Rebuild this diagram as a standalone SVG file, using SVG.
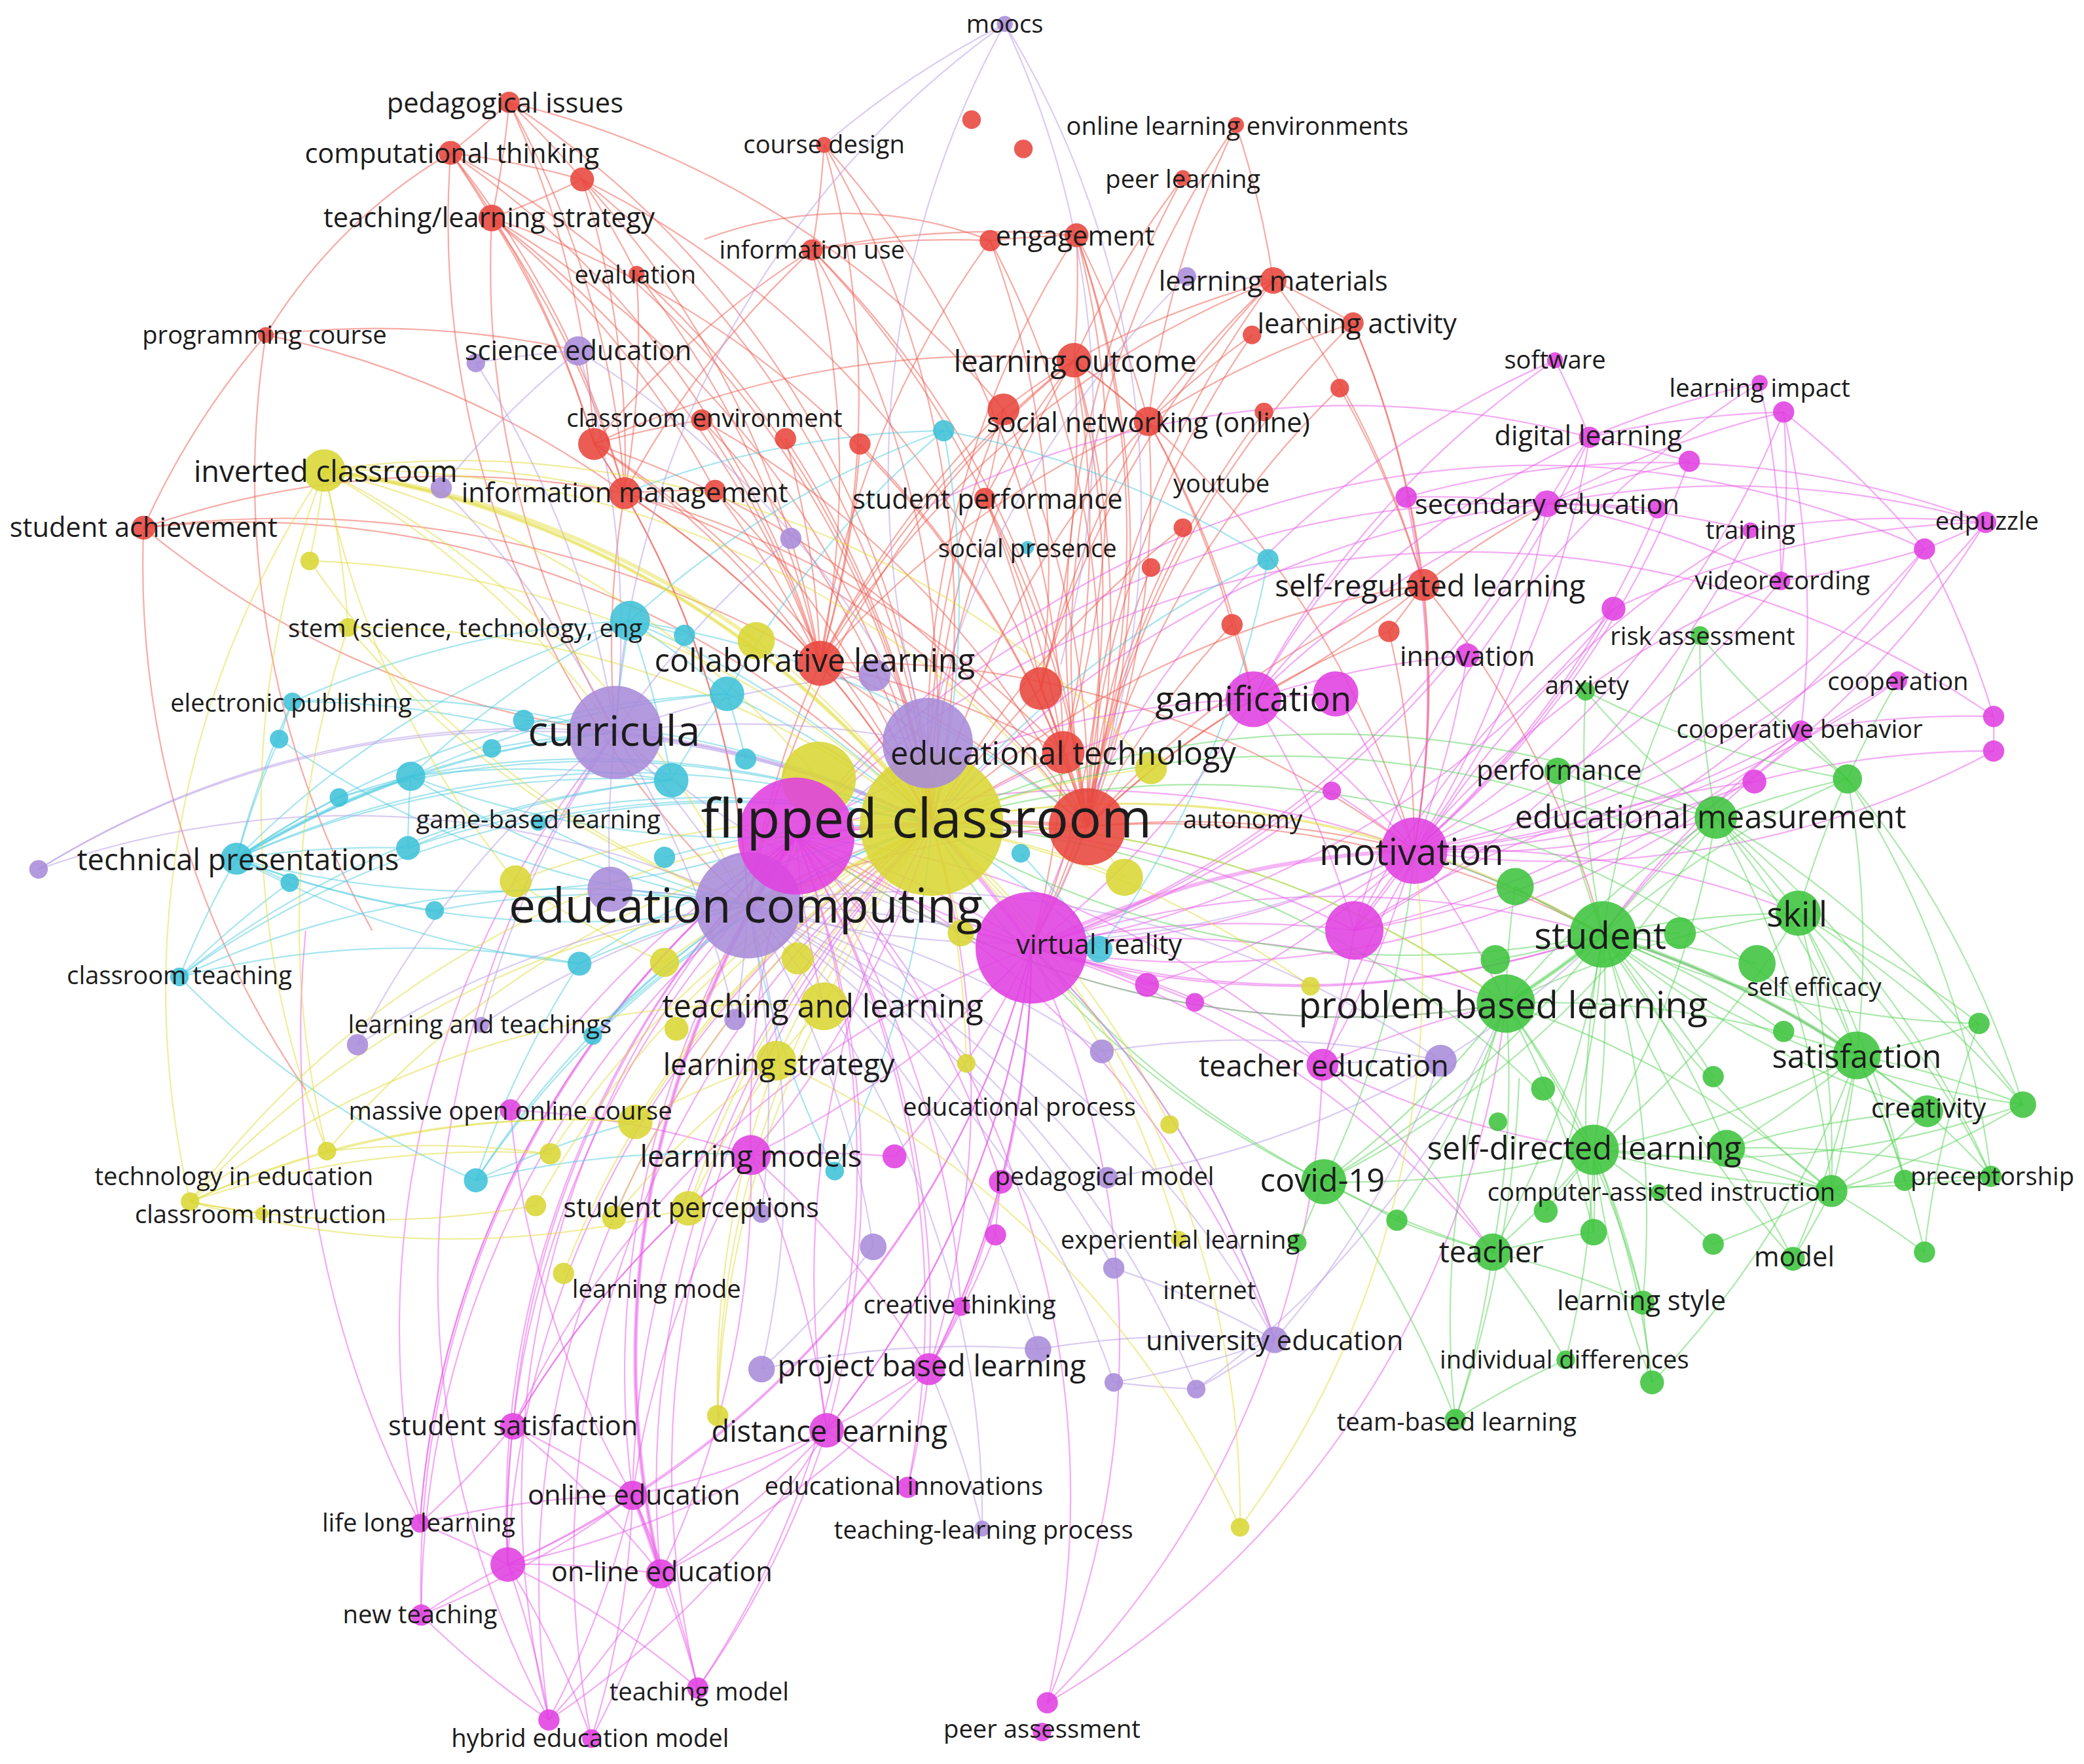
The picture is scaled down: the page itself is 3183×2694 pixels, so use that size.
<svg xmlns="http://www.w3.org/2000/svg" width="3183" height="2694" viewBox="0 0 3183 2694">
<style>
#edges path{fill:none;stroke-width:1.1;stroke-opacity:.5}
#edges .thick path{stroke-width:3;stroke-opacity:.45}
.er path,path.er{stroke:#ee5a4e}
.em path,path.em{stroke:#e85ae8}
.eg path,path.eg{stroke:#5ad45a}
.ec path,path.ec{stroke:#4fcbe0}
.ey path,path.ey{stroke:#e2dc3a}
.ep path,path.ep{stroke:#b69ae6}
circle{fill-opacity:.88}
.R{fill:#e8453c}.G{fill:#3ec43e}.C{fill:#3fc2d8}.Y{fill:#dad634}.P{fill:#a98bda}.M{fill:#e040e0}
#labels text{font-family:"Open Sans","DejaVu Sans",sans-serif;fill:#1c1c1c;text-anchor:middle;dominant-baseline:central}
.s{font-size:18.8px}.m{font-size:20.5px}.l{font-size:22.3px}.l2{font-size:24px}.xl{font-size:27.7px}
</style>
<rect width="3183" height="2694" fill="#ffffff"/>
<g transform="scale(2.03)">
<g id="edges">
<g class="er">
<path d="M383 77A700 700 0 0 1 339 115"/><path d="M383 77A700 700 0 0 1 370 164"/><path d="M383 77A700 700 0 0 1 438 135"/><path d="M383 77A700 700 0 0 1 447 334"/><path d="M383 77A700 700 0 0 1 470 371"/><path d="M383 77A700 700 0 0 1 701 620"/><path d="M383 77A700 700 0 0 1 755 308"/>
<path d="M339 115A700 700 0 0 1 370 164"/><path d="M339 115A700 700 0 0 1 438 135"/><path d="M339 115A400 400 0 0 0 200 252"/><path d="M339 115A700 700 0 0 1 470 371"/><path d="M339 115A700 700 0 0 1 447 334"/><path d="M339 115A700 700 0 0 1 701 620"/><path d="M339 115A700 700 0 0 0 563 681"/><path d="M339 115A700 700 0 0 1 617 499"/>
<path d="M438 135A700 700 0 0 1 370 164"/><path d="M438 135A700 700 0 0 1 479 206"/><path d="M438 135A700 700 0 0 1 470 371"/><path d="M438 135A700 700 0 0 1 617 499"/><path d="M438 135A700 700 0 0 1 701 620"/><path d="M438 135A700 700 0 0 1 800 566"/>
<path d="M370 164A700 700 0 0 1 470 371"/><path d="M370 164A700 700 0 0 1 447 334"/><path d="M370 164A700 700 0 0 1 617 499"/><path d="M370 164A700 700 0 0 1 701 620"/><path d="M370 164A700 700 0 0 1 538 369"/><path d="M370 164A700 700 0 0 0 463 551"/><path d="M370 164A700 700 0 0 1 818 622"/>
<path d="M479 206A700 700 0 0 1 470 371"/><path d="M479 206A700 700 0 0 1 617 499"/><path d="M479 206A700 700 0 0 1 701 620"/>
<path d="M200 252A600 600 0 0 0 108 397"/><path d="M200 252A700 700 0 0 1 435 264"/><path d="M200 252A700 700 0 0 1 470 371"/><path d="M200 252A700 700 0 0 0 280 700"/>
<path d="M620 109A700 700 0 0 1 611 188"/><path d="M620 109A700 700 0 0 1 617 499"/><path d="M620 109A700 700 0 0 1 701 620"/><path d="M620 109A700 700 0 0 1 800 566"/>
<path d="M930 94A700 700 0 0 1 958 211"/><path d="M930 94A700 700 0 0 0 864 317"/><path d="M930 94A700 700 0 0 0 818 622"/>
<path d="M890 134A700 700 0 0 0 808 271"/><path d="M890 134A700 700 0 0 0 818 622"/>
<path d="M611 188A700 700 0 0 1 745 181"/><path d="M611 188A700 700 0 0 1 810 177"/><path d="M611 188A700 700 0 0 0 447 334"/><path d="M611 188A700 700 0 0 0 470 371"/><path d="M611 188A700 700 0 0 1 617 499"/><path d="M611 188A700 700 0 0 1 701 620"/><path d="M611 188A700 700 0 0 1 818 622"/><path d="M611 188A700 700 0 0 1 800 566"/>
<path d="M745 181A700 700 0 0 1 810 177"/><path d="M745 181A700 700 0 0 0 617 499"/><path d="M745 181A700 700 0 0 1 818 622"/><path d="M745 181A700 700 0 0 1 783 518"/><path d="M745 181A300 300 0 0 0 530 180"/>
<path d="M810 177A700 700 0 0 1 808 271"/><path d="M810 177A700 700 0 0 1 864 317"/><path d="M810 177A700 700 0 0 1 818 622"/><path d="M810 177A700 700 0 0 0 701 620"/><path d="M810 177A700 700 0 0 1 800 566"/><path d="M810 177A700 700 0 0 1 776 713"/>
<path d="M958 211A700 700 0 0 1 1018 243"/><path d="M958 211A700 700 0 0 0 808 271"/><path d="M958 211A700 700 0 0 0 864 317"/><path d="M958 211A700 700 0 0 0 818 622"/><path d="M958 211A700 700 0 0 0 783 518"/><path d="M958 211A700 700 0 0 1 1071 440"/><path d="M958 211A700 700 0 0 0 617 499"/>
<path d="M1018 243A700 700 0 0 1 1071 440"/><path d="M1018 243A700 700 0 0 0 864 317"/><path d="M1018 243A700 700 0 0 0 818 622"/><path d="M1018 243A700 700 0 0 1 1064 640"/>
<path d="M942 252A700 700 0 0 0 864 317"/><path d="M942 252A700 700 0 0 0 818 622"/>
<path d="M808 271A700 700 0 0 0 755 308"/><path d="M808 271A700 700 0 0 1 864 317"/><path d="M808 271A700 700 0 0 0 741 375"/><path d="M808 271A700 700 0 0 0 617 499"/><path d="M808 271A700 700 0 0 1 783 518"/><path d="M808 271A700 700 0 0 1 800 566"/><path d="M808 271A700 700 0 0 1 818 622"/><path d="M808 271A700 700 0 0 0 701 620"/><path d="M808 271A700 700 0 0 0 563 681"/><path d="M808 271A700 700 0 0 1 776 713"/><path d="M808 271A700 700 0 0 0 447 334"/><path d="M808 271A700 700 0 0 1 1064 640"/>
<path d="M755 308A700 700 0 0 0 617 499"/><path d="M755 308A700 700 0 0 1 818 622"/><path d="M755 308A700 700 0 0 0 701 620"/><path d="M755 308A700 700 0 0 1 741 375"/>
<path d="M864 317A700 700 0 0 1 818 622"/><path d="M864 317A700 700 0 0 0 783 518"/><path d="M864 317A700 700 0 0 0 701 620"/><path d="M864 317A700 700 0 0 0 617 499"/><path d="M864 317A700 700 0 0 1 943 526"/><path d="M864 317A700 700 0 0 1 927 470"/>
<path d="M951 310A700 700 0 0 0 818 622"/><path d="M1008 292A700 700 0 0 0 818 622"/><path d="M1008 292A700 700 0 0 1 1071 440"/>
<path d="M528 316A700 700 0 0 1 617 499"/><path d="M528 316A700 700 0 0 0 447 334"/><path d="M528 316A700 700 0 0 1 701 620"/><path d="M528 316A700 700 0 0 1 818 622"/>
<path d="M447 334A700 700 0 0 1 470 371"/><path d="M447 334A700 700 0 0 1 617 499"/><path d="M447 334A700 700 0 0 1 701 620"/><path d="M447 334A700 700 0 0 1 818 622"/><path d="M447 334A700 700 0 0 1 563 681"/>
<path d="M591 330A700 700 0 0 1 617 499"/><path d="M591 330A700 700 0 0 1 701 620"/><path d="M647 334A700 700 0 0 1 617 499"/><path d="M647 334A700 700 0 0 1 818 622"/>
<path d="M470 371A700 700 0 0 1 617 499"/><path d="M470 371A700 700 0 0 1 701 620"/><path d="M470 371A700 700 0 0 1 818 622"/><path d="M470 371A700 700 0 0 1 800 566"/><path d="M470 371A700 700 0 0 1 563 681"/><path d="M470 371A700 700 0 0 0 463 551"/><path d="M470 371A700 700 0 0 1 538 369"/>
<path d="M538 369A700 700 0 0 1 617 499"/><path d="M538 369A700 700 0 0 1 701 620"/>
<path d="M741 375A700 700 0 0 1 818 622"/><path d="M741 375A700 700 0 0 0 701 620"/><path d="M741 375A700 700 0 0 1 783 518"/>
<path d="M890 397A700 700 0 0 0 818 622"/><path d="M890 397A700 700 0 0 0 701 620"/><path d="M866 427A700 700 0 0 0 818 622"/><path d="M927 470A700 700 0 0 0 818 622"/><path d="M927 470A700 700 0 0 1 943 526"/>
<path d="M1071 440A700 700 0 0 0 818 622"/><path d="M1071 440A700 700 0 0 1 1064 640"/><path d="M1071 440A700 700 0 0 1 943 526"/><path d="M1071 440A700 700 0 0 0 701 620"/><path d="M1071 440A700 700 0 0 1 1045 475"/><path d="M1071 440A700 700 0 0 1 1206 703"/><path d="M1071 440A700 700 0 0 1 1164 379"/>
<path d="M1045 475A700 700 0 0 0 818 622"/><path d="M1045 475A700 700 0 0 1 1064 640"/>
<path d="M108 397A700 700 0 0 1 470 371"/><path d="M108 397A700 700 0 0 1 701 620"/><path d="M108 397A800 800 0 0 1 617 499"/><path d="M108 397A700 700 0 0 0 463 551"/><path d="M108 397A700 700 0 0 0 230 820"/>
<path d="M617 499A700 700 0 0 1 701 620"/><path d="M617 499A700 700 0 0 0 563 681"/><path d="M617 499A700 700 0 0 1 818 622"/><path d="M617 499A700 700 0 0 1 800 566"/><path d="M617 499A700 700 0 0 1 698 559"/><path d="M617 499A700 700 0 0 1 1064 640"/>
<path d="M783 518A700 700 0 0 0 701 620"/><path d="M783 518A700 700 0 0 1 818 622"/><path d="M783 518A700 700 0 0 1 800 566"/>
<path d="M800 566A700 700 0 0 1 818 622"/><path d="M800 566A700 700 0 0 0 701 620"/><path d="M800 566A700 700 0 0 1 776 713"/>
<path d="M818 622A700 700 0 0 1 1064 640"/><path d="M818 622A700 700 0 0 1 776 713"/><path d="M818 622A700 700 0 0 0 563 681"/><path d="M818 622A700 700 0 0 1 1206 703"/><path d="M818 622A700 700 0 0 1 943 526"/>
</g>
<g class="em">
<path d="M599 629A700 700 0 0 0 565 869"/><path d="M599 629A700 700 0 0 1 699 1030"/><path d="M599 629A700 700 0 0 0 386 1073"/><path d="M599 629A700 700 0 0 1 622 1076"/><path d="M599 629A700 700 0 0 0 476 1125"/><path d="M599 629A700 700 0 0 0 382 1177"/><path d="M599 629A700 700 0 0 0 497 1184"/><path d="M599 629A700 700 0 0 1 525 1270"/><path d="M599 629A700 700 0 0 0 413 1294"/><path d="M599 629A700 700 0 0 1 788 1281"/><path d="M599 629A700 700 0 0 0 316 1146"/><path d="M599 629A700 700 0 0 0 317 1215"/><path d="M599 629A700 700 0 0 1 683 1119"/><path d="M599 629A700 700 0 0 1 723 983"/><path d="M599 629A700 700 0 0 1 753 889"/><path d="M599 629A700 700 0 0 1 995 801"/><path d="M599 629A700 700 0 0 1 1064 640"/><path d="M599 629A700 700 0 0 1 1019 700"/><path d="M599 629A700 700 0 0 1 943 526"/><path d="M599 629A700 700 0 0 1 776 713"/><path d="M599 629A700 700 0 0 0 620 757"/><path d="M599 629A700 700 0 0 1 1164 379"/><path d="M599 629A700 700 0 0 1 1448 413"/><path d="M599 629A700 700 0 0 1 1500 539"/><path d="M599 629A700 700 0 0 0 384 835"/><path d="M599 629A700 700 0 0 0 1206 703"/><path d="M599 629A700 700 0 0 0 1133 755"/><path d="M599 629A700 700 0 0 1 959 1008"/>
<path d="M776 713A700 700 0 0 0 1064 640"/><path d="M776 713A700 700 0 0 1 1019 700"/><path d="M776 713A700 700 0 0 0 943 526"/><path d="M776 713A700 700 0 0 1 995 801"/><path d="M776 713A700 700 0 0 1 699 1030"/><path d="M776 713A700 700 0 0 1 622 1076"/><path d="M776 713A700 700 0 0 1 565 869"/><path d="M776 713A700 700 0 0 1 753 889"/><path d="M776 713A700 700 0 0 1 673 870"/><path d="M776 713A700 700 0 0 1 723 983"/><path d="M776 713A700 700 0 0 1 476 1125"/><path d="M776 713A700 700 0 0 1 382 1177"/><path d="M776 713A700 700 0 0 0 1214 458"/><path d="M776 713A700 700 0 0 0 1164 379"/><path d="M776 713A700 700 0 0 0 1196 329"/><path d="M776 713A700 700 0 0 0 1002 595"/><path d="M776 713A700 700 0 0 1 863 741"/><path d="M776 713A700 700 0 0 1 899 754"/><path d="M776 713A700 700 0 0 0 1206 703"/><path d="M776 713A700 700 0 0 1 1133 755"/><path d="M776 713A700 700 0 0 0 1494 393"/><path d="M776 713A700 700 0 0 1 788 1281"/><path d="M776 713A700 700 0 0 1 1397 794"/><path d="M776 713A700 700 0 0 1 1123 942"/><path d="M776 713A700 700 0 0 1 959 1008"/>
<path d="M1064 640A700 700 0 0 0 943 526"/><path d="M1064 640A700 700 0 0 0 1005 522"/><path d="M1064 640A700 700 0 0 1 1019 700"/><path d="M1064 640A700 700 0 0 0 1104 493"/><path d="M1064 640A700 700 0 0 0 1164 379"/><path d="M1064 640A700 700 0 0 0 1214 458"/><path d="M1064 640A700 700 0 0 0 1340 437"/><path d="M1064 640A700 700 0 0 0 1355 550"/><path d="M1064 640A700 700 0 0 0 1320 588"/><path d="M1064 640A700 700 0 0 0 1196 329"/><path d="M1064 640A700 700 0 0 0 1342 310"/><path d="M1064 640A700 700 0 0 0 1448 413"/><path d="M1064 640A700 700 0 0 0 1494 393"/><path d="M1064 640A700 700 0 0 1 995 801"/><path d="M1064 640A700 700 0 0 0 1428 512"/><path d="M1064 640A700 700 0 0 0 1500 565"/><path d="M1064 640A700 700 0 0 1 1206 703"/><path d="M1064 640A700 700 0 0 1 1133 755"/><path d="M1064 640A700 700 0 0 0 1271 347"/><path d="M1064 640A700 700 0 0 1 1353 687"/><path d="M1064 640A700 700 0 0 0 1291 615"/>
<path d="M1019 700A700 700 0 0 1 995 801"/><path d="M1019 700A700 700 0 0 0 943 526"/><path d="M1019 700A700 700 0 0 0 1355 550"/><path d="M1019 700A700 700 0 0 0 1317 399"/><path d="M1019 700A700 700 0 0 0 1448 413"/>
<path d="M943 526A700 700 0 0 1 1005 522"/><path d="M943 526A700 700 0 0 1 1104 493"/><path d="M943 526A700 700 0 0 1 1196 329"/><path d="M943 526A700 700 0 0 1 1164 379"/><path d="M943 526A700 700 0 0 1 1170 271"/><path d="M943 526A700 700 0 0 1 1058 374"/><path d="M943 526A700 700 0 0 0 701 620"/>
<path d="M1164 379A700 700 0 0 1 1196 329"/><path d="M1164 379A700 700 0 0 1 1271 347"/><path d="M1164 379A700 700 0 0 1 1247 383"/><path d="M1164 379A700 700 0 0 1 1317 399"/><path d="M1164 379A700 700 0 0 1 1494 393"/><path d="M1164 379A700 700 0 0 1 1340 437"/><path d="M1164 379A700 700 0 0 1 1342 310"/><path d="M1164 379A700 700 0 0 0 1058 374"/><path d="M1164 379A700 700 0 0 0 701 620"/>
<path d="M1196 329A700 700 0 0 1 1324 288"/><path d="M1196 329A700 700 0 0 1 1342 310"/><path d="M1196 329A700 700 0 0 0 1170 271"/><path d="M1196 329A700 700 0 0 1 1271 347"/><path d="M1196 329A700 700 0 0 0 700 380"/>
<path d="M1342 310A700 700 0 0 1 1340 437"/><path d="M1342 310A700 700 0 0 1 1355 550"/><path d="M1342 310A700 700 0 0 1 1448 413"/><path d="M1324 288A700 700 0 0 1 1340 437"/>
<path d="M1448 413A700 700 0 0 0 1494 393"/><path d="M1448 413A700 700 0 0 1 1340 437"/><path d="M1448 413A700 700 0 0 1 1500 539"/>
<path d="M1494 393A700 700 0 0 0 1317 399"/><path d="M1494 393A700 700 0 0 0 1214 458"/><path d="M1494 393A700 700 0 0 0 1058 374"/>
<path d="M1500 539A700 700 0 0 1 1500 565"/><path d="M1500 539A700 700 0 0 0 1355 550"/><path d="M1500 565A700 700 0 0 0 1320 588"/>
<path d="M386 1073A700 700 0 0 1 316 1146"/><path d="M386 1073A700 700 0 0 0 382 1177"/><path d="M386 1073A700 700 0 0 1 476 1125"/><path d="M386 1073A700 700 0 0 1 497 1184"/><path d="M386 1073A700 700 0 0 1 565 869"/><path d="M386 1073A700 700 0 0 1 776 713"/>
<path d="M622 1076A700 700 0 0 1 476 1125"/><path d="M622 1076A700 700 0 0 1 382 1177"/><path d="M622 1076A700 700 0 0 1 497 1184"/><path d="M622 1076A700 700 0 0 0 683 1119"/><path d="M622 1076A700 700 0 0 0 699 1030"/><path d="M622 1076A700 700 0 0 1 525 1270"/><path d="M622 1076A700 700 0 0 1 413 1294"/><path d="M622 1076A700 700 0 0 0 776 713"/><path d="M622 1076A700 700 0 0 1 701 620"/>
<path d="M476 1125A700 700 0 0 1 382 1177"/><path d="M476 1125A700 700 0 0 1 497 1184"/><path d="M476 1125A700 700 0 0 1 525 1270"/><path d="M476 1125A700 700 0 0 1 413 1294"/><path d="M476 1125A700 700 0 0 1 445 1308"/><path d="M476 1125A700 700 0 0 1 317 1215"/><path d="M476 1125A700 700 0 0 1 701 620"/>
<path d="M382 1177A700 700 0 0 0 317 1215"/><path d="M382 1177A700 700 0 0 1 413 1294"/><path d="M382 1177A700 700 0 0 1 497 1184"/><path d="M382 1177A700 700 0 0 1 445 1308"/><path d="M382 1177A700 700 0 0 1 525 1270"/><path d="M382 1177A700 700 0 0 1 701 620"/>
<path d="M497 1184A700 700 0 0 1 525 1270"/><path d="M497 1184A700 700 0 0 1 413 1294"/><path d="M497 1184A700 700 0 0 1 445 1308"/><path d="M497 1184A700 700 0 0 1 701 620"/>
<path d="M565 869A700 700 0 0 1 622 1076"/><path d="M565 869A700 700 0 0 1 699 1030"/><path d="M565 869A700 700 0 0 0 386 1073"/><path d="M565 869A700 700 0 0 0 476 1125"/><path d="M565 869A700 700 0 0 1 497 1184"/><path d="M565 869A700 700 0 0 1 673 870"/><path d="M565 869A700 700 0 0 0 701 620"/>
<path d="M699 1030A700 700 0 0 1 683 1119"/><path d="M699 1030A700 700 0 0 1 497 1184"/><path d="M699 1030A700 700 0 0 0 749 929"/><path d="M699 1030A700 700 0 0 0 723 983"/><path d="M699 1030A700 700 0 0 0 701 620"/>
<path d="M788 1281A700 700 0 0 0 995 801"/><path d="M788 1281A700 700 0 0 0 1133 755"/>
<path d="M316 1146A700 700 0 0 1 382 1177"/><path d="M316 1146A700 700 0 0 1 476 1125"/><path d="M316 1146A700 700 0 0 1 599 629"/><path d="M317 1215A700 700 0 0 0 413 1294"/>
<path d="M384 835A700 700 0 0 1 565 869"/><path d="M384 835A700 700 0 0 0 476 1125"/>
<path d="M753 889A700 700 0 0 0 749 929"/><path d="M753 889A700 700 0 0 1 699 1030"/>
<path d="M1002 595A700 700 0 0 1 1064 640"/><path d="M863 741A700 700 0 0 0 1064 640"/><path d="M899 754A700 700 0 0 0 1064 640"/><path d="M1058 374A700 700 0 0 1 1064 640"/><path d="M1247 383A700 700 0 0 1 1064 640"/>
<path d="M1170 271A700 700 0 0 0 776 713"/><path d="M1324 288A700 700 0 0 0 1019 700"/><path d="M1317 399A700 700 0 0 0 995 801"/><path d="M1214 458A700 700 0 0 0 1019 700"/><path d="M1340 437A700 700 0 0 0 1019 700"/><path d="M1428 512A700 700 0 0 0 1206 703"/><path d="M1355 550A700 700 0 0 0 1206 703"/><path d="M1320 588A700 700 0 0 0 1019 700"/>
<path d="M995 801A700 700 0 0 1 1133 755"/><path d="M995 801A700 700 0 0 1 1123 942"/><path d="M995 801A700 700 0 0 0 1199 865"/>
<path d="M413 1294A700 700 0 0 1 463 551"/><path d="M382 1177A700 700 0 0 1 563 681"/><path d="M316 1146A700 700 0 0 1 463 551"/><path d="M445 1308A700 700 0 0 1 701 620"/><path d="M525 1270A700 700 0 0 1 701 620"/><path d="M413 1294A700 700 0 0 1 701 620"/><path d="M317 1215A700 700 0 0 1 563 681"/><path d="M316 1146A800 800 0 0 1 230 700"/>
</g>
<g class="eg">
<path d="M1206 703A700 700 0 0 1 1172 580"/><path d="M1206 703A700 700 0 0 1 1390 586"/><path d="M1206 703A700 700 0 0 1 1291 615"/><path d="M1206 703A700 700 0 0 1 1140 667"/><path d="M1206 703A700 700 0 0 1 1264 702"/><path d="M1206 703A700 700 0 0 1 1353 687"/><path d="M1206 703A700 700 0 0 1 1322 725"/><path d="M1206 703A700 700 0 0 1 1125 722"/><path d="M1206 703A700 700 0 0 1 1133 755"/><path d="M1206 703A700 700 0 0 1 1397 794"/><path d="M1206 703A700 700 0 0 1 1289 810"/><path d="M1206 703A700 700 0 0 0 1450 836"/><path d="M1206 703A700 700 0 0 1 1199 865"/><path d="M1206 703A700 700 0 0 1 1299 864"/><path d="M1206 703A700 700 0 0 1 996 889"/><path d="M1206 703A700 700 0 0 0 1378 896"/><path d="M1206 703A700 700 0 0 1 1163 911"/><path d="M1206 703A700 700 0 0 0 1199 927"/><path d="M1206 703A700 700 0 0 1 1123 942"/><path d="M1206 703A700 700 0 0 0 1349 947"/><path d="M1206 703A700 700 0 0 1 1236 980"/><path d="M1206 703A700 700 0 0 0 1489 770"/><path d="M1206 703A700 700 0 0 0 1522 831"/><path d="M1206 703A700 700 0 0 1 1342 776"/><path d="M1206 703A700 700 0 0 1 1279 478"/><path d="M1206 703A700 700 0 0 1 1193 520"/><path d="M1206 703A700 700 0 0 1 701 620"/><path d="M1206 703A700 700 0 0 0 1064 640"/>
<path d="M1133 755A700 700 0 0 1 1291 615"/><path d="M1133 755A700 700 0 0 1 1353 687"/><path d="M1133 755A700 700 0 0 1 1397 794"/><path d="M1133 755A700 700 0 0 1 1199 865"/><path d="M1133 755A700 700 0 0 1 996 889"/><path d="M1133 755A700 700 0 0 1 1123 942"/><path d="M1133 755A700 700 0 0 1 1051 918"/><path d="M1133 755A700 700 0 0 0 1095 1068"/><path d="M1133 755A700 700 0 0 1 1199 927"/><path d="M1133 755A700 700 0 0 1 1236 980"/><path d="M1133 755A700 700 0 0 1 1378 896"/><path d="M1133 755A700 700 0 0 1 1140 667"/><path d="M1133 755A700 700 0 0 0 701 620"/><path d="M1133 755A700 700 0 0 1 599 629"/>
<path d="M1397 794A700 700 0 0 0 1291 615"/><path d="M1397 794A700 700 0 0 0 1353 687"/><path d="M1397 794A700 700 0 0 1 1522 831"/><path d="M1397 794A700 700 0 0 1 1450 836"/><path d="M1397 794A700 700 0 0 1 1299 864"/><path d="M1397 794A700 700 0 0 1 1378 896"/><path d="M1397 794A700 700 0 0 1 1498 885"/><path d="M1397 794A700 700 0 0 1 1433 888"/><path d="M1397 794A700 700 0 0 1 1448 942"/><path d="M1397 794A700 700 0 0 0 1489 770"/><path d="M1397 794A700 700 0 0 0 1390 586"/><path d="M1397 794A700 700 0 0 1 1199 865"/><path d="M1397 794A700 700 0 0 1 1349 947"/><path d="M1397 794A700 700 0 0 1 1243 1040"/><path d="M1397 794A700 700 0 0 0 701 620"/>
<path d="M1199 865A700 700 0 0 0 1291 615"/><path d="M1199 865A700 700 0 0 0 1353 687"/><path d="M1199 865A700 700 0 0 1 1378 896"/><path d="M1199 865A700 700 0 0 1 1163 911"/><path d="M1199 865A700 700 0 0 1 1199 927"/><path d="M1199 865A700 700 0 0 1 1123 942"/><path d="M1199 865A700 700 0 0 1 1236 980"/><path d="M1199 865A700 700 0 0 1 1178 1023"/><path d="M1199 865A700 700 0 0 1 1243 1040"/><path d="M1199 865A700 700 0 0 1 1289 936"/><path d="M1199 865A700 700 0 0 0 1498 885"/><path d="M1199 865A700 700 0 0 0 1522 831"/><path d="M1199 865A700 700 0 0 1 996 889"/><path d="M1199 865A700 700 0 0 0 701 620"/>
<path d="M1291 615A700 700 0 0 1 1390 586"/><path d="M1291 615A700 700 0 0 1 1172 580"/><path d="M1291 615A700 700 0 0 1 1353 687"/><path d="M1291 615A700 700 0 0 1 1522 831"/><path d="M1291 615A700 700 0 0 1 1498 885"/><path d="M1291 615A700 700 0 0 1 1279 478"/><path d="M1291 615A700 700 0 0 1 1193 520"/><path d="M1291 615A700 700 0 0 1 1378 896"/><path d="M1291 615A700 700 0 0 1 996 889"/><path d="M1291 615A700 700 0 0 0 701 620"/>
<path d="M1353 687A700 700 0 0 1 1390 586"/><path d="M1353 687A700 700 0 0 1 1522 831"/><path d="M1353 687A700 700 0 0 1 1489 770"/><path d="M1353 687A700 700 0 0 1 1378 896"/><path d="M1353 687A700 700 0 0 1 1498 885"/><path d="M1353 687A700 700 0 0 1 1433 888"/><path d="M1353 687A700 700 0 0 0 701 620"/>
<path d="M1378 896A700 700 0 0 1 1498 885"/><path d="M1378 896A700 700 0 0 1 1448 942"/><path d="M1378 896A700 700 0 0 1 1349 947"/><path d="M1378 896A700 700 0 0 0 1522 831"/><path d="M1378 896A700 700 0 0 0 1450 836"/><path d="M1378 896A700 700 0 0 1 1289 936"/>
<path d="M1123 942A700 700 0 0 1 1095 1068"/><path d="M1123 942A700 700 0 0 1 1236 980"/><path d="M1123 942A700 700 0 0 1 1178 1023"/><path d="M1123 942A700 700 0 0 1 1051 918"/><path d="M1123 942A700 700 0 0 1 996 889"/><path d="M1123 942A700 700 0 0 1 1199 927"/>
<path d="M996 889A700 700 0 0 1 1051 918"/><path d="M996 889A700 700 0 0 1 976 935"/><path d="M996 889A700 700 0 0 1 1095 1068"/><path d="M996 889A700 700 0 0 1 776 713"/><path d="M996 889A700 700 0 0 1 701 620"/><path d="M996 889A700 700 0 0 0 1064 640"/>
<path d="M1390 586A700 700 0 0 1 1522 831"/><path d="M1390 586A700 700 0 0 1 1279 478"/><path d="M1390 586A700 700 0 0 1 1193 520"/><path d="M1390 586A700 700 0 0 1 1498 885"/><path d="M1390 586A700 700 0 0 1 1355 550"/><path d="M1390 586A700 700 0 0 1 1428 512"/>
<path d="M1299 864A700 700 0 0 1 1450 836"/><path d="M1299 864A700 700 0 0 1 1378 896"/><path d="M1299 864A700 700 0 0 1 1498 885"/><path d="M1299 864A700 700 0 0 1 1349 947"/>
<path d="M1243 1040A700 700 0 0 1 1236 980"/><path d="M1243 1040A700 700 0 0 1 1199 865"/><path d="M1095 1068A700 700 0 0 1 1178 1023"/><path d="M1095 1068A900 900 0 0 0 1143 811"/><path d="M1489 770A700 700 0 0 0 1448 942"/>
</g>
<g class="ec">
<path d="M178 646A700 700 0 0 1 309 584"/><path d="M178 646A700 700 0 0 1 307 638"/><path d="M178 646A700 700 0 0 1 218 664"/><path d="M178 646A700 700 0 0 1 255 600"/><path d="M178 646A700 700 0 0 1 210 556"/><path d="M178 646A700 700 0 0 1 220 528"/><path d="M178 646A700 700 0 0 0 135 735"/><path d="M178 646A700 700 0 0 1 505 587"/><path d="M178 646A700 700 0 0 1 547 522"/><path d="M178 646A700 700 0 0 1 474 467"/><path d="M178 646A700 700 0 0 1 463 551"/><path d="M178 646A700 700 0 0 0 563 681"/><path d="M178 646A700 700 0 0 1 701 620"/><path d="M178 646A700 700 0 0 0 327 685"/><path d="M178 646A700 700 0 0 0 436 725"/><path d="M178 646A700 700 0 0 0 599 629"/>
<path d="M309 584A700 700 0 0 1 505 587"/><path d="M309 584A700 700 0 0 1 474 467"/><path d="M309 584A700 700 0 0 1 547 522"/><path d="M309 584A700 700 0 0 0 255 600"/><path d="M309 584A700 700 0 0 0 307 638"/><path d="M309 584A700 700 0 0 1 463 551"/><path d="M309 584A700 700 0 0 1 701 620"/><path d="M309 584A700 700 0 0 0 563 681"/><path d="M309 584A700 700 0 0 0 599 629"/>
<path d="M135 735A700 700 0 0 1 436 725"/><path d="M135 735A700 700 0 0 1 505 587"/><path d="M135 735A700 700 0 0 1 563 681"/><path d="M135 735A700 700 0 0 1 701 620"/><path d="M135 735A700 700 0 0 0 358 888"/><path d="M135 735A700 700 0 0 1 218 664"/>
<path d="M220 528A700 700 0 0 0 210 556"/><path d="M220 528A700 700 0 0 1 474 467"/><path d="M220 528A700 700 0 0 1 505 587"/><path d="M220 528A700 700 0 0 1 463 551"/>
<path d="M474 467A700 700 0 0 1 515 478"/><path d="M474 467A700 700 0 0 1 547 522"/><path d="M474 467A700 700 0 0 1 505 587"/><path d="M474 467A700 700 0 0 1 701 620"/><path d="M474 467A700 700 0 0 0 463 551"/><path d="M474 467A700 700 0 0 1 818 622"/>
<path d="M547 522A700 700 0 0 1 701 620"/><path d="M547 522A700 700 0 0 0 505 587"/><path d="M547 522A700 700 0 0 1 561 571"/>
<path d="M358 888A700 700 0 0 1 436 725"/><path d="M358 888A700 700 0 0 1 563 681"/><path d="M358 888A700 700 0 0 1 701 620"/><path d="M358 888A700 700 0 0 1 478 844"/><path d="M358 888A700 700 0 0 1 565 869"/>
<path d="M710 324A700 700 0 0 0 474 467"/><path d="M710 324A700 700 0 0 0 470 371"/><path d="M710 324A700 700 0 0 1 701 620"/><path d="M710 324A700 700 0 0 1 954 421"/><path d="M710 324A700 700 0 0 0 547 522"/>
<path d="M954 421A700 700 0 0 0 701 620"/><path d="M954 421A700 700 0 0 1 827 714"/><path d="M827 714A700 700 0 0 0 701 620"/><path d="M827 714A700 700 0 0 0 768 642"/>
<path d="M436 725A700 700 0 0 1 563 681"/><path d="M436 725A700 700 0 0 1 701 620"/><path d="M446 779A700 700 0 0 1 563 681"/><path d="M446 779A700 700 0 0 1 701 620"/>
<path d="M628 881A700 700 0 0 0 701 620"/><path d="M628 881A700 700 0 0 1 563 681"/><path d="M307 638A700 700 0 0 1 505 587"/><path d="M307 638A700 700 0 0 1 701 620"/>
<path d="M394 542A700 700 0 0 1 701 620"/><path d="M370 563A700 700 0 0 1 463 551"/><path d="M405 619A700 700 0 0 1 701 620"/><path d="M405 619A700 700 0 0 0 563 681"/><path d="M500 645A700 700 0 0 1 701 620"/><path d="M327 685A700 700 0 0 1 563 681"/><path d="M255 600A700 700 0 0 1 701 620"/><path d="M210 556A700 700 0 0 0 563 681"/>
</g>
<g class="ey">
<path d="M244 354A700 700 0 0 1 233 422"/><path d="M244 354A700 700 0 0 1 262 472"/><path d="M244 354A700 700 0 0 1 616 586"/><path d="M244 354A700 700 0 0 1 701 620"/><path d="M244 354A700 700 0 0 1 563 681"/><path d="M244 354A700 700 0 0 1 463 551"/><path d="M244 354A700 700 0 0 1 846 660"/><path d="M244 354A700 700 0 0 0 388 663"/><path d="M244 354A700 700 0 0 1 470 371"/><path d="M244 354A700 700 0 0 0 143 904"/><path d="M244 354A700 700 0 0 0 246 866"/><path d="M244 354A700 700 0 0 1 866 578"/>
<path d="M701 620A700 700 0 0 0 620 757"/><path d="M701 620A700 700 0 0 0 584 798"/><path d="M701 620A700 700 0 0 1 866 578"/><path d="M701 620A700 700 0 0 1 846 660"/><path d="M701 620A700 700 0 0 0 600 721"/><path d="M701 620A700 700 0 0 0 500 724"/><path d="M701 620A700 700 0 0 1 723 702"/><path d="M701 620A700 700 0 0 1 986 742"/><path d="M701 620A700 700 0 0 1 880 846"/><path d="M701 620A700 700 0 0 0 478 844"/><path d="M701 620A700 700 0 0 0 414 868"/><path d="M701 620A700 700 0 0 0 518 909"/><path d="M701 620A700 700 0 0 0 462 916"/><path d="M701 620A700 700 0 0 0 403 907"/><path d="M701 620A700 700 0 0 0 424 958"/><path d="M701 620A700 700 0 0 0 540 1065"/><path d="M701 620A700 700 0 0 1 933 1149"/><path d="M701 620A700 700 0 0 1 887 932"/><path d="M701 620A700 700 0 0 0 246 866"/><path d="M701 620A700 700 0 0 0 143 904"/><path d="M701 620A700 700 0 0 1 1206 703"/><path d="M701 620A700 700 0 0 1 1133 755"/><path d="M701 620A700 700 0 0 1 1064 640"/><path d="M701 620A700 700 0 0 1 727 800"/><path d="M701 620A700 700 0 0 0 509 774"/>
<path d="M143 904A700 700 0 0 1 246 866"/><path d="M143 904A700 700 0 0 0 197 913"/><path d="M143 904A700 700 0 0 1 414 868"/><path d="M143 904A700 700 0 0 1 478 844"/><path d="M143 904A700 700 0 0 0 518 909"/><path d="M143 904A700 700 0 0 0 403 907"/><path d="M143 904A700 700 0 0 1 563 681"/><path d="M143 904A700 700 0 0 1 620 757"/>
<path d="M246 866A700 700 0 0 1 414 868"/><path d="M246 866A700 700 0 0 1 478 844"/>
<path d="M584 798A700 700 0 0 0 478 844"/><path d="M584 798A700 700 0 0 0 518 909"/><path d="M584 798A700 700 0 0 0 462 916"/><path d="M584 798A700 700 0 0 0 540 1065"/><path d="M584 798A700 700 0 0 1 620 757"/>
<path d="M933 1149A700 700 0 0 0 584 798"/><path d="M540 1065A700 700 0 0 1 620 757"/><path d="M233 422A700 700 0 0 1 701 620"/><path d="M233 422A700 700 0 0 0 563 681"/><path d="M262 472A700 700 0 0 1 701 620"/><path d="M262 472A700 700 0 0 0 563 681"/><path d="M262 472A700 700 0 0 0 246 866"/><path d="M388 663A700 700 0 0 1 701 620"/><path d="M388 663A700 700 0 0 0 500 724"/><path d="M569 482A700 700 0 0 1 701 620"/><path d="M933 1149A700 700 0 0 0 1064 640"/>
</g>
<g class="ep">
<path d="M756 18A700 700 0 0 0 463 551"/><path d="M756 18A700 700 0 0 0 698 559"/><path d="M756 18A700 700 0 0 1 776 713"/><path d="M756 18A700 700 0 0 0 620 109"/><path d="M756 18A700 700 0 0 1 798 500"/>
<path d="M463 551A700 700 0 0 1 563 681"/><path d="M463 551A700 700 0 0 1 698 559"/><path d="M463 551A700 700 0 0 0 459 669"/><path d="M463 551A700 700 0 0 0 435 264"/><path d="M463 551A700 700 0 0 0 332 367"/><path d="M463 551A700 700 0 0 0 358 273"/><path d="M463 551A700 700 0 0 0 29 654"/><path d="M463 551A700 700 0 0 0 269 786"/><path d="M463 551A700 700 0 0 0 362 771"/><path d="M463 551A700 700 0 0 1 595 405"/><path d="M463 551A700 700 0 0 1 658 508"/><path d="M463 551A700 700 0 0 1 701 620"/><path d="M463 551A700 700 0 0 1 553 767"/><path d="M463 551A700 700 0 0 0 776 713"/>
<path d="M563 681A700 700 0 0 1 698 559"/><path d="M563 681A700 700 0 0 0 459 669"/><path d="M563 681A700 700 0 0 0 269 786"/><path d="M563 681A700 700 0 0 0 362 771"/><path d="M563 681A700 700 0 0 1 553 767"/><path d="M563 681A700 700 0 0 1 829 791"/><path d="M563 681A700 700 0 0 1 1084 798"/><path d="M563 681A700 700 0 0 1 657 938"/><path d="M563 681A700 700 0 0 1 838 954"/><path d="M563 681A700 700 0 0 1 959 1008"/><path d="M563 681A700 700 0 0 1 573 1030"/><path d="M563 681A700 700 0 0 1 781 1015"/><path d="M563 681A700 700 0 0 1 838 1040"/><path d="M563 681A700 700 0 0 1 900 1045"/><path d="M563 681A700 700 0 0 1 739 1150"/><path d="M563 681A700 700 0 0 1 573 913"/><path d="M563 681A700 700 0 0 1 833 886"/><path d="M563 681A700 700 0 0 0 29 654"/><path d="M563 681A700 700 0 0 1 701 620"/><path d="M563 681A700 700 0 0 1 776 713"/><path d="M563 681A700 700 0 0 0 1064 640"/>
<path d="M435 264A700 700 0 0 0 358 273"/><path d="M435 264A700 700 0 0 0 332 367"/><path d="M435 264A700 700 0 0 1 698 559"/><path d="M29 654A700 700 0 0 1 701 620"/>
<path d="M959 1008A700 700 0 0 0 781 1015"/><path d="M959 1008A700 700 0 0 1 838 1040"/><path d="M959 1008A700 700 0 0 1 900 1045"/><path d="M959 1008A700 700 0 0 0 838 954"/><path d="M959 1008A700 700 0 0 0 1084 798"/><path d="M959 1008A700 700 0 0 0 776 713"/>
<path d="M1084 798A700 700 0 0 0 829 791"/><path d="M1084 798A700 700 0 0 1 833 886"/><path d="M1084 798A700 700 0 0 0 995 801"/><path d="M1084 798A700 700 0 0 0 1206 703"/>
<path d="M573 1030A700 700 0 0 1 781 1015"/><path d="M573 1030A700 700 0 0 0 657 938"/><path d="M893 208A700 700 0 0 0 698 559"/><path d="M893 208A700 700 0 0 1 958 211"/><path d="M900 1045A700 700 0 0 1 838 1040"/><path d="M900 1045A700 700 0 0 0 1133 755"/><path d="M739 1150A700 700 0 0 0 699 1030"/>
</g>
<g class="thick">
<path class="ey" d="M701 620A700 700 0 0 1 563 681"/><path class="em" d="M599 629A700 700 0 0 1 701 620"/><path class="ep" d="M463 551A700 700 0 0 1 701 620"/><path class="em" d="M599 629A700 700 0 0 0 563 681"/><path class="em" d="M776 713A700 700 0 0 0 701 620"/><path class="ey" d="M244 354A700 700 0 0 1 569 482"/><path class="ey" d="M244 354A700 700 0 0 1 701 620"/><path class="eg" d="M1206 703A700 700 0 0 1 1133 755"/><path class="eg" d="M1206 703A700 700 0 0 1 1397 794"/><path class="em" d="M1064 640A700 700 0 0 0 776 713"/><path class="er" d="M818 622A700 700 0 0 0 701 620"/><path class="ec" d="M178 646A700 700 0 0 1 309 584"/><path class="em" d="M599 629A700 700 0 0 0 497 1184"/><path class="em" d="M476 1125A700 700 0 0 1 497 1184"/>
</g>
</g>
<g id="nodes">
<g id="n-flipped-classroom"><circle class="Y" cx="701" cy="620" r="54"/></g>
<g id="n-y6"><circle class="Y" cx="616" cy="586" r="28"/></g>
<g id="n-p9"><circle class="P" cx="698" cy="559" r="34"/></g>
<g id="n-education-computing"><circle class="P" cx="563" cy="681" r="40"/></g>
<g id="n-m2"><circle class="M" cx="776" cy="713" r="42"/></g>
<g id="n-m1"><circle class="M" cx="599" cy="629" r="44"/></g>
<g id="n-curricula"><circle class="P" cx="463" cy="551" r="35"/></g>
<g id="n-r39"><circle class="R" cx="818" cy="622" r="29"/></g>
<g id="n-pedagogical-issues"><circle class="R" cx="383" cy="77" r="8"/></g>
<g id="n-computational-thinking"><circle class="R" cx="339" cy="115" r="9"/></g>
<g id="n-r3"><circle class="R" cx="438" cy="135" r="9"/></g>
<g id="n-teaching-learning-strategy"><circle class="R" cx="370" cy="164" r="10"/></g>
<g id="n-evaluation"><circle class="R" cx="479" cy="206" r="6"/></g>
<g id="n-programming-course"><circle class="R" cx="200" cy="252" r="6"/></g>
<g id="n-course-design"><circle class="R" cx="620" cy="109" r="6"/></g>
<g id="n-r8"><circle class="R" cx="731" cy="90" r="7"/></g>
<g id="n-r9"><circle class="R" cx="770" cy="112" r="7"/></g>
<g id="n-online-learning-environments"><circle class="R" cx="930" cy="94" r="6"/></g>
<g id="n-peer-learning"><circle class="R" cx="890" cy="134" r="6"/></g>
<g id="n-information-use"><circle class="R" cx="611" cy="188" r="8"/></g>
<g id="n-r13"><circle class="R" cx="745" cy="181" r="8"/></g>
<g id="n-engagement"><circle class="R" cx="810" cy="177" r="9"/></g>
<g id="n-learning-materials"><circle class="R" cx="958" cy="211" r="10"/></g>
<g id="n-learning-activity"><circle class="R" cx="1018" cy="243" r="8"/></g>
<g id="n-r17"><circle class="R" cx="942" cy="252" r="7"/></g>
<g id="n-learning-outcome"><circle class="R" cx="808" cy="271" r="13"/></g>
<g id="n-r19"><circle class="R" cx="755" cy="308" r="12"/></g>
<g id="n-social-networking"><circle class="R" cx="864" cy="317" r="11"/></g>
<g id="n-r21"><circle class="R" cx="951" cy="310" r="7"/></g>
<g id="n-r22"><circle class="R" cx="1008" cy="292" r="7"/></g>
<g id="n-classroom-environment"><circle class="R" cx="528" cy="316" r="8"/></g>
<g id="n-r24"><circle class="R" cx="447" cy="334" r="12"/></g>
<g id="n-r25"><circle class="R" cx="591" cy="330" r="8"/></g>
<g id="n-r26"><circle class="R" cx="647" cy="334" r="8"/></g>
<g id="n-information-management"><circle class="R" cx="470" cy="371" r="12"/></g>
<g id="n-r28"><circle class="R" cx="538" cy="369" r="8"/></g>
<g id="n-student-performance"><circle class="R" cx="741" cy="375" r="8"/></g>
<g id="n-r30"><circle class="R" cx="890" cy="397" r="7"/></g>
<g id="n-r31"><circle class="R" cx="866" cy="427" r="7"/></g>
<g id="n-r32"><circle class="R" cx="927" cy="470" r="8"/></g>
<g id="n-self-regulated-learning"><circle class="R" cx="1071" cy="440" r="12"/></g>
<g id="n-r34"><circle class="R" cx="1045" cy="475" r="8"/></g>
<g id="n-student-achievement"><circle class="R" cx="108" cy="397" r="9"/></g>
<g id="n-collaborative-learning"><circle class="R" cx="617" cy="499" r="17"/></g>
<g id="n-r37"><circle class="R" cx="783" cy="518" r="16"/></g>
<g id="n-educational-technology"><circle class="R" cx="800" cy="566" r="16"/></g>
<g id="n-performance"><circle class="G" cx="1172" cy="580" r="10"/></g>
<g id="n-g2"><circle class="G" cx="1390" cy="586" r="11"/></g>
<g id="n-educational-measurement"><circle class="G" cx="1291" cy="615" r="16"/></g>
<g id="n-g4"><circle class="G" cx="1140" cy="667" r="14"/></g>
<g id="n-student"><circle class="G" cx="1206" cy="703" r="25"/></g>
<g id="n-g6"><circle class="G" cx="1264" cy="702" r="12"/></g>
<g id="n-skill"><circle class="G" cx="1353" cy="687" r="17"/></g>
<g id="n-g8"><circle class="G" cx="1322" cy="725" r="14"/></g>
<g id="n-g9"><circle class="G" cx="1125" cy="722" r="11"/></g>
<g id="n-problem-based-learning"><circle class="G" cx="1133" cy="755" r="22"/></g>
<g id="n-g11"><circle class="G" cx="1489" cy="770" r="8"/></g>
<g id="n-self-efficacy"><circle class="G" cx="1342" cy="776" r="8"/></g>
<g id="n-satisfaction"><circle class="G" cx="1397" cy="794" r="18"/></g>
<g id="n-g14"><circle class="G" cx="1289" cy="810" r="8"/></g>
<g id="n-g15"><circle class="G" cx="1522" cy="831" r="10"/></g>
<g id="n-creativity"><circle class="G" cx="1450" cy="836" r="12"/></g>
<g id="n-g17"><circle class="G" cx="1161" cy="819" r="9"/></g>
<g id="n-g18"><circle class="G" cx="1127" cy="844" r="7"/></g>
<g id="n-self-directed-learning"><circle class="G" cx="1199" cy="865" r="19"/></g>
<g id="n-g20"><circle class="G" cx="1299" cy="864" r="14"/></g>
<g id="n-covid-19"><circle class="G" cx="996" cy="889" r="17"/></g>
<g id="n-g22"><circle class="G" cx="1378" cy="896" r="12"/></g>
<g id="n-g23"><circle class="G" cx="1433" cy="888" r="8"/></g>
<g id="n-preceptorship"><circle class="G" cx="1498" cy="885" r="8"/></g>
<g id="n-g25"><circle class="G" cx="1163" cy="911" r="9"/></g>
<g id="n-g26"><circle class="G" cx="1051" cy="918" r="8"/></g>
<g id="n-g27"><circle class="G" cx="1199" cy="927" r="10"/></g>
<g id="n-g28"><circle class="G" cx="1289" cy="936" r="8"/></g>
<g id="n-g29"><circle class="G" cx="1448" cy="942" r="8"/></g>
<g id="n-teacher"><circle class="G" cx="1123" cy="942" r="14"/></g>
<g id="n-model"><circle class="G" cx="1349" cy="947" r="9"/></g>
<g id="n-learning-style"><circle class="G" cx="1236" cy="980" r="9"/></g>
<g id="n-individual-differences"><circle class="G" cx="1178" cy="1023" r="7"/></g>
<g id="n-g34"><circle class="G" cx="1243" cy="1040" r="9"/></g>
<g id="n-team-based-learning"><circle class="G" cx="1095" cy="1068" r="8"/></g>
<g id="n-risk-assessment"><circle class="G" cx="1279" cy="478" r="7"/></g>
<g id="n-anxiety"><circle class="G" cx="1193" cy="520" r="7"/></g>
<g id="n-g38"><circle class="G" cx="976" cy="935" r="7"/></g>
<g id="n-computer-assisted-instruction"><circle class="G" cx="1248" cy="897" r="6"/></g>
<g id="n-c1"><circle class="C" cx="474" cy="467" r="15"/></g>
<g id="n-c2"><circle class="C" cx="515" cy="478" r="8"/></g>
<g id="n-c3"><circle class="C" cx="547" cy="522" r="13"/></g>
<g id="n-c4"><circle class="C" cx="505" cy="587" r="13"/></g>
<g id="n-c5"><circle class="C" cx="561" cy="571" r="8"/></g>
<g id="n-c6"><circle class="C" cx="394" cy="542" r="8"/></g>
<g id="n-c7"><circle class="C" cx="370" cy="563" r="7"/></g>
<g id="n-electronic-publishing"><circle class="C" cx="220" cy="528" r="7"/></g>
<g id="n-c9"><circle class="C" cx="210" cy="556" r="7"/></g>
<g id="n-c10"><circle class="C" cx="255" cy="600" r="7"/></g>
<g id="n-c11"><circle class="C" cx="309" cy="584" r="11"/></g>
<g id="n-c12"><circle class="C" cx="307" cy="638" r="9"/></g>
<g id="n-technical-presentations"><circle class="C" cx="178" cy="646" r="12"/></g>
<g id="n-c14"><circle class="C" cx="218" cy="664" r="7"/></g>
<g id="n-c15"><circle class="C" cx="327" cy="685" r="7"/></g>
<g id="n-classroom-teaching"><circle class="C" cx="135" cy="735" r="7"/></g>
<g id="n-c17"><circle class="C" cx="436" cy="725" r="9"/></g>
<g id="n-c18"><circle class="C" cx="446" cy="779" r="7"/></g>
<g id="n-c19"><circle class="C" cx="358" cy="888" r="9"/></g>
<g id="n-c20"><circle class="C" cx="628" cy="881" r="7"/></g>
<g id="n-c21"><circle class="C" cx="710" cy="324" r="8"/></g>
<g id="n-c22"><circle class="C" cx="954" cy="421" r="8"/></g>
<g id="n-c23"><circle class="C" cx="768" cy="642" r="7"/></g>
<g id="n-virtual-reality"><circle class="C" cx="827" cy="714" r="10"/></g>
<g id="n-social-presence"><circle class="C" cx="773" cy="412" r="5"/></g>
<g id="n-game-based-learning"><circle class="C" cx="405" cy="619" r="6"/></g>
<g id="n-c27"><circle class="C" cx="500" cy="645" r="8"/></g>
<g id="n-inverted-classroom"><circle class="Y" cx="244" cy="354" r="16"/></g>
<g id="n-y2"><circle class="Y" cx="233" cy="422" r="7"/></g>
<g id="n-stem"><circle class="Y" cx="262" cy="472" r="7"/></g>
<g id="n-y4"><circle class="Y" cx="569" cy="482" r="14"/></g>
<g id="n-y7"><circle class="Y" cx="866" cy="578" r="12"/></g>
<g id="n-y8"><circle class="Y" cx="846" cy="660" r="14"/></g>
<g id="n-y9"><circle class="Y" cx="388" cy="663" r="12"/></g>
<g id="n-y10"><circle class="Y" cx="500" cy="724" r="11"/></g>
<g id="n-y11"><circle class="Y" cx="600" cy="721" r="12"/></g>
<g id="n-y12"><circle class="Y" cx="509" cy="774" r="9"/></g>
<g id="n-teaching-and-learning"><circle class="Y" cx="620" cy="757" r="18"/></g>
<g id="n-learning-strategy"><circle class="Y" cx="584" cy="798" r="15"/></g>
<g id="n-educational-process"><circle class="Y" cx="727" cy="800" r="7"/></g>
<g id="n-y16"><circle class="Y" cx="723" cy="702" r="10"/></g>
<g id="n-y17"><circle class="Y" cx="986" cy="742" r="7"/></g>
<g id="n-y18"><circle class="Y" cx="880" cy="846" r="7"/></g>
<g id="n-y19"><circle class="Y" cx="478" cy="844" r="13"/></g>
<g id="n-y20"><circle class="Y" cx="414" cy="868" r="8"/></g>
<g id="n-technology-in-education"><circle class="Y" cx="246" cy="866" r="7"/></g>
<g id="n-y22"><circle class="Y" cx="143" cy="904" r="7"/></g>
<g id="n-student-perceptions"><circle class="Y" cx="518" cy="909" r="13"/></g>
<g id="n-y24"><circle class="Y" cx="462" cy="916" r="9"/></g>
<g id="n-y25"><circle class="Y" cx="403" cy="907" r="8"/></g>
<g id="n-learning-mode"><circle class="Y" cx="424" cy="958" r="8"/></g>
<g id="n-y27"><circle class="Y" cx="540" cy="1065" r="8"/></g>
<g id="n-y28"><circle class="Y" cx="933" cy="1149" r="7"/></g>
<g id="n-experiential-learning"><circle class="Y" cx="887" cy="932" r="6"/></g>
<g id="n-classroom-instruction"><circle class="Y" cx="197" cy="913" r="5"/></g>
<g id="n-moocs"><circle class="P" cx="756" cy="18" r="6"/></g>
<g id="n-p2"><circle class="P" cx="893" cy="208" r="7"/></g>
<g id="n-science-education"><circle class="P" cx="435" cy="264" r="11"/></g>
<g id="n-p4"><circle class="P" cx="358" cy="273" r="7"/></g>
<g id="n-p5"><circle class="P" cx="332" cy="367" r="8"/></g>
<g id="n-p6"><circle class="P" cx="595" cy="405" r="8"/></g>
<g id="n-p7"><circle class="P" cx="658" cy="508" r="12"/></g>
<g id="n-p11"><circle class="P" cx="459" cy="669" r="17"/></g>
<g id="n-p12"><circle class="P" cx="29" cy="654" r="7"/></g>
<g id="n-p13"><circle class="P" cx="269" cy="786" r="8"/></g>
<g id="n-learning-and-teachings"><circle class="P" cx="362" cy="771" r="6"/></g>
<g id="n-p15"><circle class="P" cx="553" cy="767" r="8"/></g>
<g id="n-p16"><circle class="P" cx="829" cy="791" r="9"/></g>
<g id="n-p17"><circle class="P" cx="1084" cy="798" r="12"/></g>
<g id="n-p18"><circle class="P" cx="657" cy="938" r="10"/></g>
<g id="n-p19"><circle class="P" cx="838" cy="954" r="8"/></g>
<g id="n-university-education"><circle class="P" cx="959" cy="1008" r="10"/></g>
<g id="n-p21"><circle class="P" cx="573" cy="1030" r="10"/></g>
<g id="n-p22"><circle class="P" cx="781" cy="1015" r="10"/></g>
<g id="n-p23"><circle class="P" cx="838" cy="1040" r="7"/></g>
<g id="n-p24"><circle class="P" cx="900" cy="1045" r="7"/></g>
<g id="n-teaching-learning-process"><circle class="P" cx="739" cy="1150" r="6"/></g>
<g id="n-p26"><circle class="P" cx="573" cy="913" r="7"/></g>
<g id="n-p27"><circle class="P" cx="833" cy="886" r="8"/></g>
<g id="n-gamification"><circle class="M" cx="943" cy="526" r="21"/></g>
<g id="n-m4"><circle class="M" cx="1005" cy="522" r="17"/></g>
<g id="n-motivation"><circle class="M" cx="1064" cy="640" r="25"/></g>
<g id="n-m6"><circle class="M" cx="1019" cy="700" r="22"/></g>
<g id="n-innovation"><circle class="M" cx="1104" cy="493" r="9"/></g>
<g id="n-digital-learning"><circle class="M" cx="1196" cy="329" r="8"/></g>
<g id="n-learning-impact"><circle class="M" cx="1324" cy="288" r="6"/></g>
<g id="n-m10"><circle class="M" cx="1342" cy="310" r="8"/></g>
<g id="n-software"><circle class="M" cx="1170" cy="271" r="6"/></g>
<g id="n-m12"><circle class="M" cx="1271" cy="347" r="8"/></g>
<g id="n-secondary-education"><circle class="M" cx="1164" cy="379" r="10"/></g>
<g id="n-m14"><circle class="M" cx="1058" cy="374" r="8"/></g>
<g id="n-m15"><circle class="M" cx="1247" cy="383" r="7"/></g>
<g id="n-training"><circle class="M" cx="1317" cy="399" r="6"/></g>
<g id="n-m17"><circle class="M" cx="1448" cy="413" r="8"/></g>
<g id="n-edpuzzle"><circle class="M" cx="1494" cy="393" r="8"/></g>
<g id="n-videorecording"><circle class="M" cx="1340" cy="437" r="7"/></g>
<g id="n-m20"><circle class="M" cx="1214" cy="458" r="9"/></g>
<g id="n-cooperation"><circle class="M" cx="1428" cy="512" r="7"/></g>
<g id="n-cooperative-behavior"><circle class="M" cx="1355" cy="550" r="8"/></g>
<g id="n-m23"><circle class="M" cx="1500" cy="539" r="8"/></g>
<g id="n-m24"><circle class="M" cx="1500" cy="565" r="8"/></g>
<g id="n-m25"><circle class="M" cx="1320" cy="588" r="9"/></g>
<g id="n-m26"><circle class="M" cx="1002" cy="595" r="7"/></g>
<g id="n-m27"><circle class="M" cx="863" cy="741" r="9"/></g>
<g id="n-m28"><circle class="M" cx="899" cy="754" r="7"/></g>
<g id="n-teacher-education"><circle class="M" cx="995" cy="801" r="12"/></g>
<g id="n-learning-models"><circle class="M" cx="565" cy="869" r="15"/></g>
<g id="n-m31"><circle class="M" cx="673" cy="870" r="9"/></g>
<g id="n-pedagogical-model"><circle class="M" cx="753" cy="889" r="9"/></g>
<g id="n-m33"><circle class="M" cx="749" cy="929" r="8"/></g>
<g id="n-creative-thinking"><circle class="M" cx="723" cy="983" r="7"/></g>
<g id="n-project-based-learning"><circle class="M" cx="699" cy="1030" r="12"/></g>
<g id="n-student-satisfaction"><circle class="M" cx="386" cy="1073" r="10"/></g>
<g id="n-distance-learning"><circle class="M" cx="622" cy="1076" r="13"/></g>
<g id="n-online-education"><circle class="M" cx="476" cy="1125" r="11"/></g>
<g id="n-educational-innovations"><circle class="M" cx="683" cy="1119" r="8"/></g>
<g id="n-life-long-learning"><circle class="M" cx="316" cy="1146" r="7"/></g>
<g id="n-m41"><circle class="M" cx="382" cy="1177" r="13"/></g>
<g id="n-on-line-education"><circle class="M" cx="497" cy="1184" r="11"/></g>
<g id="n-new-teaching"><circle class="M" cx="317" cy="1215" r="8"/></g>
<g id="n-teaching-model"><circle class="M" cx="525" cy="1270" r="8"/></g>
<g id="n-m45"><circle class="M" cx="413" cy="1294" r="8"/></g>
<g id="n-hybrid-education-model"><circle class="M" cx="445" cy="1308" r="7"/></g>
<g id="n-m47"><circle class="M" cx="788" cy="1281" r="8"/></g>
<g id="n-peer-assessment"><circle class="M" cx="784" cy="1303" r="7"/></g>
<g id="n-massive-open-online-course"><circle class="M" cx="384" cy="835" r="8"/></g>
</g>
<g id="labels">
<text class="s" x="756" y="17">moocs</text>
<text class="m" x="380" y="77">pedagogical issues</text>
<text class="m" x="340" y="115">computational thinking</text>
<text class="m" x="368" y="163">teaching/learning strategy</text>
<text class="s" x="620" y="108">course design</text>
<text class="s" x="931" y="94">online learning environments</text>
<text class="s" x="890" y="134">peer learning</text>
<text class="s" x="611" y="187">information use</text>
<text class="m" x="809" y="177">engagement</text>
<text class="s" x="478" y="206">evaluation</text>
<text class="m" x="958" y="211">learning materials</text>
<text class="m" x="1021" y="243">learning activity</text>
<text class="s" x="199" y="251">programming course</text>
<text class="m" x="435" y="263">science education</text>
<text class="l" x="809" y="271">learning outcome</text>
<text class="s" x="1170" y="270">software</text>
<text class="s" x="1324" y="291">learning impact</text>
<text class="s" x="530" y="314">classroom environment</text>
<text class="m" x="864" y="317">social networking (online)</text>
<text class="m" x="1195" y="327">digital learning</text>
<text class="l" x="245" y="354">inverted classroom</text>
<text class="m" x="470" y="370">information management</text>
<text class="m" x="743" y="375">student performance</text>
<text class="s" x="919" y="363">youtube</text>
<text class="m" x="1164" y="379">secondary education</text>
<text class="s" x="1317" y="398">training</text>
<text class="s" x="1495" y="391">edpuzzle</text>
<text class="m" x="108" y="396">student achievement</text>
<text class="s" x="773" y="412">social presence</text>
<text class="l" x="1076" y="440">self-regulated learning</text>
<text class="s" x="1341" y="436">videorecording</text>
<text class="s" x="350" y="472">stem (science, technology, eng</text>
<text class="m" x="1104" y="493">innovation</text>
<text class="s" x="1281" y="478">risk assessment</text>
<text class="l2" x="613" y="496">collaborative learning</text>
<text class="s" x="1194" y="515">anxiety</text>
<text class="s" x="1428" y="512">cooperation</text>
<text style="font-size:25.8px" x="943" y="525">gamification</text>
<text class="s" x="219" y="528">electronic publishing</text>
<text class="s" x="1354" y="548">cooperative behavior</text>
<text style="font-size:31.9px" x="462" y="549">curricula</text>
<text class="l2" x="800" y="566">educational technology</text>
<text class="m" x="1173" y="579">performance</text>
<text style="font-size:41px" x="697" y="614">flipped classroom</text>
<text class="s" x="405" y="616">game-based learning</text>
<text class="s" x="935" y="616">autonomy</text>
<text class="l2" x="1287" y="614">educational measurement</text>
<text class="xl" x="1062" y="640">motivation</text>
<text class="l" x="179" y="646">technical presentations</text>
<text style="font-size:36px" x="561" y="680">education computing</text>
<text class="xl" x="1204" y="703">student</text>
<text style="font-size:26px" x="1352" y="687">skill</text>
<text class="m" x="827" y="710">virtual reality</text>
<text class="s" x="135" y="733">classroom teaching</text>
<text class="s" x="1365" y="742">self efficacy</text>
<text class="xl" x="1131" y="755">problem based learning</text>
<text class="l2" x="619" y="756">teaching and learning</text>
<text class="s" x="361" y="770">learning and teachings</text>
<text class="l2" x="1397" y="794">satisfaction</text>
<text class="l" x="586" y="800">learning strategy</text>
<text class="l" x="996" y="801">teacher education</text>
<text class="s" x="767" y="832">educational process</text>
<text class="s" x="384" y="835">massive open online course</text>
<text class="m" x="1451" y="833">creativity</text>
<text class="l2" x="1192" y="863">self-directed learning</text>
<text class="l" x="565" y="869">learning models</text>
<text class="s" x="176" y="884">technology in education</text>
<text class="s" x="1499" y="884">preceptorship</text>
<text class="s" x="831" y="884">pedagogical model</text>
<text class="l2" x="995" y="887">covid-19</text>
<text class="s" x="1250" y="896">computer-assisted instruction</text>
<text class="s" x="196" y="913">classroom instruction</text>
<text class="m" x="520" y="908">student perceptions</text>
<text class="s" x="888" y="932">experiential learning</text>
<text class="l" x="1122" y="941">teacher</text>
<text class="m" x="1350" y="945">model</text>
<text class="s" x="494" y="969">learning mode</text>
<text class="s" x="910" y="970">internet</text>
<text class="m" x="1235" y="978">learning style</text>
<text class="s" x="722" y="981">creative thinking</text>
<text class="m" x="959" y="1008">university education</text>
<text class="s" x="1177" y="1022">individual differences</text>
<text class="l" x="701" y="1027">project based learning</text>
<text class="m" x="386" y="1072">student satisfaction</text>
<text class="l" x="624" y="1076">distance learning</text>
<text class="s" x="1096" y="1069">team-based learning</text>
<text class="m" x="477" y="1124">online education</text>
<text class="s" x="680" y="1117">educational innovations</text>
<text class="s" x="315" y="1145">life long learning</text>
<text class="s" x="740" y="1150">teaching-learning process</text>
<text class="m" x="498" y="1182">on-line education</text>
<text class="s" x="316" y="1214">new teaching</text>
<text class="s" x="526" y="1272">teaching model</text>
<text class="s" x="444" y="1307">hybrid education model</text>
<text class="s" x="784" y="1300">peer assessment</text>
</g>
</g>
</svg>
